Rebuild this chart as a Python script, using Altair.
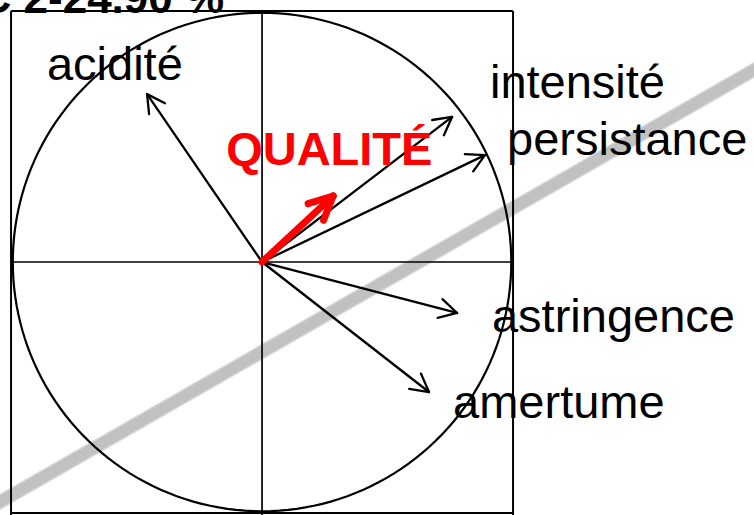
import altair as alt
import pandas as pd

# Active variables: coordinates on factorial axes 1 and 2
var_names = ["acidité", "intensité", "persistance", "astringence", "amertume"]
var_x = [-0.458, 0.757, 0.888, 0.777, 0.665]
var_y = [0.669, 0.578, 0.426, -0.203, -0.518]

# Left end of each label's baseline
lab_x = [-0.857, 0.908, 0.976, 0.916, 0.761]
lab_y = [0.725, 0.653, 0.426, -0.279, -0.622]

# Supplementary variable
sup_names = ["QUALITÉ"]
sup_x = [0.283]
sup_y = [0.263]
sup_lab_x = [-0.143]
sup_lab_y = [0.386]

# Axis caption (upper-left corner)
axis_caption = ["PC 2-24.90 %"]
caption_x = [-0.151]
caption_y = [0.992]

# Diagonal stroke across the figure
band_x = [-1.10, 2.00]
band_y = [-0.988, 0.788]

CIRCLE_R = 0.993
X_DOM = [-1.044, 1.960]
Y_DOM = [-1.008, 1.044]

XS = alt.Scale(domain=X_DOM, nice=False, zero=False)
YS = alt.Scale(domain=Y_DOM, nice=False, zero=False)
FONT = "Liberation Sans"


def X(field):
    return alt.X(field, type="quantitative", scale=XS, axis=None)


def Y(field):
    return alt.Y(field, type="quantitative", scale=YS, axis=None)


# --- diagonal band -------------------------------------------------------
band_df = pd.DataFrame({"x1": [band_x[0]], "y1": [band_y[0]],
                        "x2": [band_x[1]], "y2": [band_y[1]]})
band_outer = alt.Chart(band_df).mark_rule(
    color="#d6d6d6", strokeWidth=14, strokeCap="butt"
).encode(x=X("x1"), y=Y("y1"), x2="x2:Q", y2="y2:Q")
band_inner = alt.Chart(band_df).mark_rule(
    color="#c1c1c1", strokeWidth=11, strokeCap="butt"
).encode(x=X("x1"), y=Y("y1"), x2="x2:Q", y2="y2:Q")

# --- frame and axes ------------------------------------------------------
frame_df = pd.DataFrame({
    "x1": [-1, 1, -1, -1, 0, -1],
    "y1": [-1.1, -1.1, 1, -1, -1.1, 0],
    "x2": [-1, 1, 1, 1, 0, 1],
    "y2": [1, 1, 1, -1, 1, 0],
    "w": [2, 2, 2, 2, 1.7, 1.7],
})
frame = alt.Chart(frame_df).mark_rule(color="black").encode(
    x=X("x1"), y=Y("y1"), x2="x2:Q", y2="y2:Q",
    strokeWidth=alt.StrokeWidth("w:Q", scale=None),
)

# --- unit correlation circle --------------------------------------------
circle = alt.Chart(alt.sequence(0, 362, 2, as_="deg")).transform_calculate(
    cx=f"{CIRCLE_R} * cos(datum.deg * PI / 180)",
    cy=f"{CIRCLE_R} * sin(datum.deg * PI / 180)",
).mark_line(color="black", strokeWidth=2.2).encode(
    x=X("cx"), y=Y("cy"), order="deg:Q"
)


# --- arrows --------------------------------------------------------------
def arrows(df, color, width, head_len, head_ang):
    base = alt.Chart(df).transform_calculate(
        ox="0", oy="0",
        back="atan2(datum.y, datum.x) + PI",
    ).transform_calculate(
        hx1=f"datum.x + {head_len} * cos(datum.back + {head_ang})",
        hy1=f"datum.y + {head_len} * sin(datum.back + {head_ang})",
        hx2=f"datum.x + {head_len} * cos(datum.back - {head_ang})",
        hy2=f"datum.y + {head_len} * sin(datum.back - {head_ang})",
    )
    mk = dict(color=color, strokeWidth=width, strokeCap="round")
    shaft = base.mark_rule(**mk).encode(x=X("ox"), y=Y("oy"), x2="x:Q", y2="y:Q")
    arm1 = base.mark_rule(**mk).encode(x=X("x"), y=Y("y"), x2="hx1:Q", y2="hy1:Q")
    arm2 = base.mark_rule(**mk).encode(x=X("x"), y=Y("y"), x2="hx2:Q", y2="hy2:Q")
    return [shaft, arm1, arm2]


var_df = pd.DataFrame({"name": var_names, "x": var_x, "y": var_y,
                       "lx": lab_x, "ly": lab_y})
sup_df = pd.DataFrame({"name": sup_names, "x": sup_x, "y": sup_y,
                       "lx": sup_lab_x, "ly": sup_lab_y})

black_arrows = arrows(var_df, "black", 2.3, 0.08, 0.5)
red_arrows = arrows(sup_df, "#ff0000", 7, 0.104, 0.45)

# --- labels --------------------------------------------------------------
var_labels = alt.Chart(var_df).mark_text(
    align="left", baseline="alphabetic", font=FONT, fontSize=47, color="black"
).encode(x=X("lx"), y=Y("ly"), text="name:N")

sup_labels = alt.Chart(sup_df).mark_text(
    align="left", baseline="alphabetic", font=FONT, fontSize=47,
    fontWeight="bold", color="#ff0000"
).encode(x=X("lx"), y=Y("ly"), text="name:N")

cap_df = pd.DataFrame({"t": axis_caption, "x": caption_x, "y": caption_y})
caption = alt.Chart(cap_df).mark_text(
    align="right", baseline="alphabetic", font=FONT, fontSize=44,
    fontWeight="bold", color="black"
).encode(x=X("x"), y=Y("y"), text="t:N")

chart = alt.layer(
    band_outer, band_inner, frame, circle,
    *black_arrows, *red_arrows,
    var_labels, sup_labels, caption,
).properties(
    width=754, height=515, autosize="none", padding=0, background="white"
).configure_view(stroke=None)

chart.save("out.html", embed_options={"renderer": "svg", "actions": False})
